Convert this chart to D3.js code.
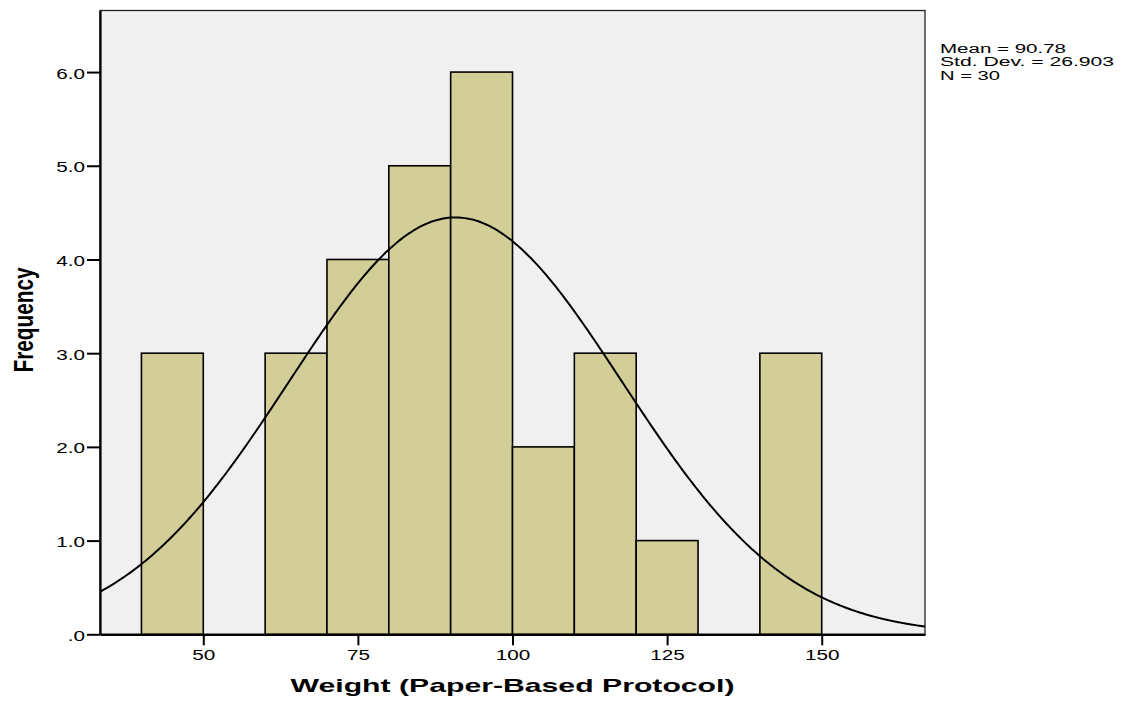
<!DOCTYPE html>
<html>
<head>
<meta charset="utf-8">
<script src="https://cdn.jsdelivr.net/npm/d3@7"></script>
<style>
  html, body { margin: 0; padding: 0; background: #ffffff; }
  svg { display: block; }
  text { font-family: "Liberation Sans", Arial, sans-serif; fill: #000; }
</style>
</head>
<body>
<svg id="chart" width="1125" height="702"></svg>
<script>
// ---- data ----
const binStarts = [40, 50, 60, 70, 80, 90, 100, 110, 120, 130, 140];
const binWidth = 10;
const frequencies = [3, 0, 3, 4, 5, 6, 2, 3, 1, 0, 3];
const xTicks = [50, 75, 100, 125, 150];
const yTicks = [0, 1, 2, 3, 4, 5, 6];
const yTickLabels = [".0", "1.0", "2.0", "3.0", "4.0", "5.0", "6.0"];
const statMean = 90.78;
const statSD = 26.903;
const statN = 30;
const statLines = ["Mean = 90.78", "Std. Dev. = 26.903", "N = 30"];
const xTitle = "Weight (Paper-Based Protocol)";
const yTitle = "Frequency";

// ---- layout ----
const svg = d3.select("#chart");
const L = 100, R = 925, T = 10.5, B = 634.3;
const x = d3.scaleLinear().domain([33.3, 166.7]).range([L, R]);
const y = d3.scaleLinear().domain([0, 6.657]).range([B, T]);
const SX = 1.38; // horizontal stretch of text

// plot background
svg.append("rect").attr("x", L).attr("y", T).attr("width", R - L).attr("height", B - T)
  .attr("fill", "#f0f0f0").attr("stroke", "#222").attr("stroke-width", 1.3);

// bars
const bars = binStarts.map((s, i) => ({ s, f: frequencies[i] })).filter(d => d.f > 0);
svg.append("g").selectAll("rect").data(bars).join("rect")
  .attr("x", d => x(d.s))
  .attr("y", d => y(d.f))
  .attr("width", d => x(d.s + binWidth) - x(d.s))
  .attr("height", d => y(0) - y(d.f))
  .attr("fill", "#d3ce98")
  .attr("stroke", "#000")
  .attr("stroke-width", 1.6);

// normal curve
svg.append("clipPath").attr("id", "clip").append("rect")
  .attr("x", L).attr("y", T).attr("width", R - L).attr("height", B - T);
const scaleF = statN * binWidth / (statSD * Math.sqrt(2 * Math.PI));
const pts = d3.range(0, 401).map(i => {
  const v = 33.3 + (166.7 - 33.3) * i / 400;
  return [v, scaleF * Math.exp(-0.5 * Math.pow((v - statMean) / statSD, 2))];
});
svg.append("path").datum(pts)
  .attr("clip-path", "url(#clip)")
  .attr("fill", "none").attr("stroke", "#000").attr("stroke-width", 2)
  .attr("d", d3.line().x(d => x(d[0])).y(d => y(d[1])).curve(d3.curveBasis));

// axes
const gx = svg.append("g").attr("transform", `translate(0,${B})`)
  .call(d3.axisBottom(x).tickValues(xTicks).tickSize(11).tickSizeOuter(0).tickFormat(d3.format("d")));
gx.select(".domain").attr("stroke", "#000").attr("stroke-width", 2.2);
gx.selectAll(".tick line").attr("stroke", "#000").attr("stroke-width", 2);
gx.selectAll(".tick text").attr("font-size", 15).attr("font-family", '"Liberation Sans", Arial, sans-serif')
  .attr("fill", "#000").attr("y", 0).attr("dy", 0)
  .attr("transform", `translate(0,26) scale(${SX},1)`);

const gy = svg.append("g").attr("transform", `translate(${L},0)`)
  .call(d3.axisLeft(y).tickValues(yTicks).tickSize(13).tickSizeOuter(0).tickFormat((d, i) => yTickLabels[i]));
gy.select(".domain").attr("stroke", "#000").attr("stroke-width", 2.2);
gy.selectAll(".tick line").attr("stroke", "#000").attr("stroke-width", 2);
gy.selectAll(".tick text").attr("font-size", 15).attr("font-family", '"Liberation Sans", Arial, sans-serif')
  .attr("fill", "#000").attr("x", 0).attr("dy", 0)
  .attr("transform", `translate(-15,6) scale(${SX},1)`);

// axis titles
svg.append("text").attr("x", 512.5).attr("y", 692)
  .attr("text-anchor", "middle").attr("font-size", 19).attr("font-weight", "bold")
  .attr("textLength", 444).attr("lengthAdjust", "spacingAndGlyphs")
  .text(xTitle);

svg.append("text")
  .attr("transform", `translate(33,320) scale(${SX},1) rotate(-90)`)
  .attr("text-anchor", "middle").attr("font-size", 20).attr("font-weight", "bold")
  .attr("textLength", 105).attr("lengthAdjust", "spacingAndGlyphs")
  .text(yTitle);

// stats
const statWidths = [126, 174, 60];
svg.append("g").selectAll("text").data(statLines).join("text")
  .attr("x", 940).attr("y", (d, i) => 52.5 + i * 13.8)
  .attr("font-size", 12)
  .attr("textLength", (d, i) => statWidths[i]).attr("lengthAdjust", "spacingAndGlyphs")
  .text(d => d);
</script>
</body>
</html>
